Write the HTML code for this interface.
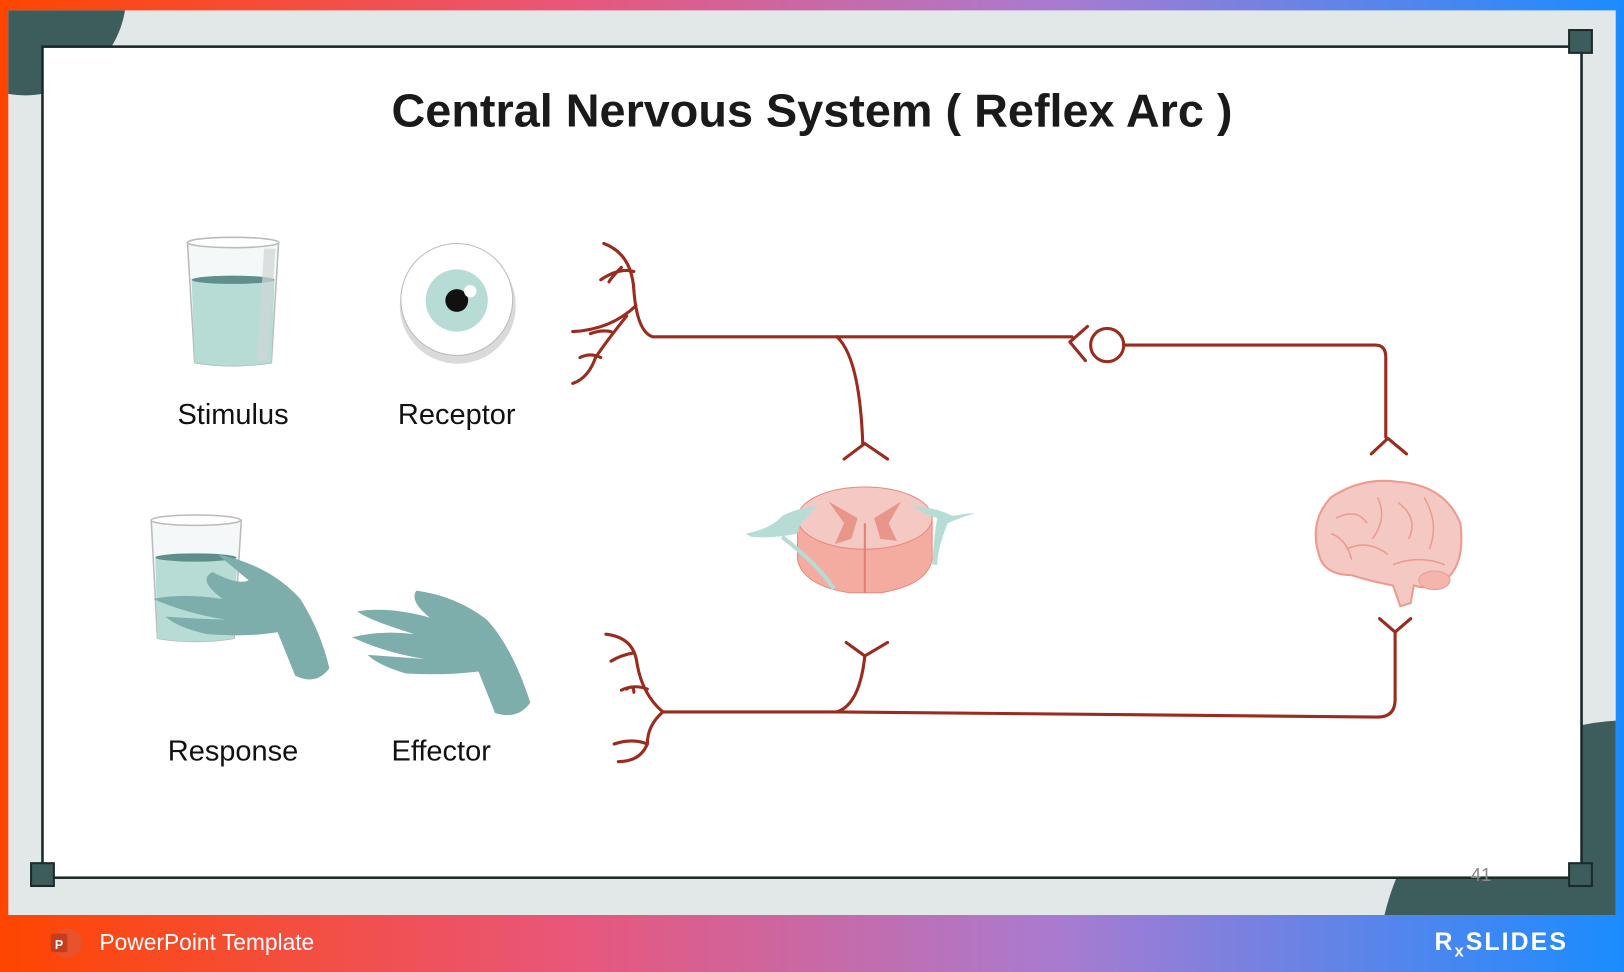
<!DOCTYPE html>
<html><head><meta charset="utf-8"><style>
html,body{margin:0;padding:0;width:1624px;height:972px;overflow:hidden;background:#fff}
svg{display:block;position:absolute;left:0;top:0}
text{font-family:"Liberation Sans",Arial,sans-serif}
</style></head><body>
<svg width="1624" height="972" viewBox="0 0 1568 938" preserveAspectRatio="none" xmlns="http://www.w3.org/2000/svg">
<defs>
<linearGradient id="g" x1="0" x2="1" y1="0" y2="0">
<stop offset="0" stop-color="#ff4500"/><stop offset="0.35" stop-color="#e9567a"/><stop offset="0.65" stop-color="#a97bd0"/><stop offset="1" stop-color="#1a8cff"/>
</linearGradient>
<clipPath id="c"><rect x="8" y="10" width="1552" height="873"/></clipPath>
</defs>
<rect x="0" y="0" width="1568" height="938" fill="url(#g)"/>
<rect x="8" y="10" width="1552" height="873" fill="#e2e7e7"/>
<g clip-path="url(#c)">
<circle cx="24" cy="-6" r="98" fill="#3c5d5b"/>
<circle cx="1575" cy="940" r="245" fill="#3c5d5b"/>
</g>
<rect x="41" y="45" width="1486" height="802" fill="#fff" stroke="#1c2a2a" stroke-width="2.5"/>
<rect x="1515" y="29" width="22" height="22" fill="#3c5d5b" stroke="#1c2a2a" stroke-width="2"/>
<rect x="30" y="833" width="22" height="22" fill="#3c5d5b" stroke="#1c2a2a" stroke-width="2"/>
<rect x="1515" y="833" width="22" height="22" fill="#3c5d5b" stroke="#1c2a2a" stroke-width="2"/>
<text x="1430" y="850" font-size="18" fill="#888" text-anchor="middle">41</text>

<text x="784" y="122" font-size="45" font-weight="bold" fill="#1a1a1a" text-anchor="middle" textLength="812" lengthAdjust="spacingAndGlyphs">Central Nervous System ( Reflex Arc )</text>

<!-- Stimulus glass -->
<path d="M181,234 L269,234 L262,350 Q225,356 188,350 Z" fill="#f4f8f8" stroke="#bbb" stroke-width="1.5"/>
<ellipse cx="225" cy="234" rx="44" ry="5" fill="#fff" stroke="#bbb" stroke-width="1.5"/>
<path d="M185,270 L265,270 L262,350 Q225,356 188,350 Z" fill="#b7dcd5"/>
<ellipse cx="225" cy="270" rx="40" ry="4" fill="#5f8f8a"/>
<path d="M255,240 L266,240 L258,348 L248,348 Z" fill="#cfd5d5" opacity="0.7"/>
<text x="225" y="409" font-size="28" fill="#111" text-anchor="middle">Stimulus</text>

<!-- Receptor eye -->
<circle cx="442" cy="295" r="56" fill="#dadada"/>
<circle cx="441" cy="289" r="54" fill="#fff" stroke="#bbb" stroke-width="1"/>
<circle cx="441" cy="290" r="30" fill="#b7dcd5"/>
<circle cx="441" cy="290" r="11" fill="#111"/>
<circle cx="454" cy="281" r="6" fill="#fff"/>
<text x="441" y="409" font-size="28" fill="#111" text-anchor="middle">Receptor</text>

<!-- Response glass + hand -->
<path d="M146,502 L233,502 L226,616 Q189,622 152,616 Z" fill="#f4f8f8" stroke="#bbb" stroke-width="1.5"/>
<ellipse cx="189" cy="502" rx="43" ry="5" fill="#fff" stroke="#bbb" stroke-width="1.5"/>
<path d="M150,538 L229,538 L226,616 Q189,622 152,616 Z" fill="#b7dcd5"/>
<ellipse cx="189" cy="538" rx="39" ry="4" fill="#5f8f8a"/>
<path d="M210,535 Q260,545 290,578 Q310,610 318,645 Q305,662 285,652 L268,610 Q240,615 200,612 Q170,605 160,595 Q190,597 218,598 Q180,592 148,578 Q175,572 215,578 Q190,560 205,552 Q230,565 240,560 Z" fill="#7eaeab"/>
<!-- Effector hand -->
<path d="M402,570 Q440,575 470,598 Q495,625 512,678 Q500,695 478,688 L462,648 Q430,652 392,650 Q365,642 355,632 Q385,634 410,636 Q372,630 340,615 Q368,608 400,612 Q355,598 345,590 Q375,585 415,596 Q395,580 402,570 Z" fill="#7eaeab"/>
<text x="225" y="734" font-size="28" fill="#111" text-anchor="middle">Response</text>
<text x="426" y="734" font-size="28" fill="#111" text-anchor="middle">Effector</text>

<!-- Nerve paths -->
<g fill="none" stroke="#9a2c1f" stroke-width="3" stroke-linecap="round" stroke-linejoin="round">
<path d="M583,235 Q610,245 612,280 Q615,320 630,325 L808,325 L1035,325"/>
<path d="M612,262 Q598,258 580,270"/>
<path d="M600,258 Q590,268 588,272"/>
<path d="M614,295 Q590,318 553,320"/>
<path d="M605,305 Q585,330 575,345 Q568,365 553,370"/>
<path d="M590,320 Q580,318 570,322"/>
<path d="M580,345 Q570,340 560,345"/>
<path d="M808,325 Q830,345 833,428"/>
<path d="M815,443 L835,428 L857,443"/>
<path d="M1050,315 L1033,330 L1048,348"/>
<circle cx="1069" cy="333" r="16"/>
<path d="M1085,333 L1328,333 Q1338,333 1338,345 L1338,422"/>
<path d="M1324,438 L1340,423 L1358,438"/>
<path d="M640,687 L808,687 L1330,692 Q1347,692 1347,675 L1347,610"/>
<path d="M808,687 Q830,680 835,633"/>
<path d="M817,620 L835,633 L857,620"/>
<path d="M1332,597 L1347,610 L1362,597"/>
<path d="M640,687 Q620,670 615,640 Q612,615 585,612"/>
<path d="M612,630 Q600,632 590,638"/>
<path d="M625,665 Q612,660 600,666"/>
<path d="M605,665 Q612,660 612,668"/>
<path d="M640,687 Q625,700 625,718 Q618,735 597,735"/>
<path d="M625,718 Q610,712 593,718"/>
</g>

<!-- Spinal cord -->
<g>
<path d="M770,500 Q835,470 900,500 L900,540 Q895,565 850,572 L820,572 Q775,565 770,540 Z" fill="#f4aba0" stroke="#ea8a7e" stroke-width="1"/>
<ellipse cx="835" cy="500" rx="65" ry="30" fill="#f4c9c3" stroke="#ea8a7e" stroke-width="1"/>
<path d="M800,484 L828,500 L822,520 L806,525 L815,505 Z M870,484 L844,500 L850,520 L866,522 L858,505 Z" fill="#e8958a"/>
<line x1="835" y1="505" x2="835" y2="572" stroke="#e37f72" stroke-width="2"/>
<path d="M720,515 Q745,510 755,498 Q770,490 790,488 Q770,505 770,515 Q745,520 725,518 Z" fill="#b7dcd5"/>
<path d="M880,488 Q905,490 920,498 Q935,495 942,495 Q925,500 915,505 Q905,530 905,545 L900,545 Q902,515 905,500 Q890,495 880,488 Z" fill="#b7dcd5"/>
<path d="M755,518 Q790,545 805,568" stroke="#b7dcd5" stroke-width="4" fill="none"/>
</g>

<!-- Brain -->
<g>
<path d="M1275,540 Q1262,505 1285,480 Q1315,460 1350,465 Q1395,468 1410,505 Q1415,545 1395,560 Q1380,570 1365,565 L1362,582 L1352,585 L1345,565 Q1320,560 1305,555 Q1282,555 1275,540 Z" fill="#f4c9c3" stroke="#ee9a8e" stroke-width="2"/>
<path d="M1290,500 Q1310,490 1320,505 M1330,480 Q1340,500 1325,520 M1350,485 Q1370,500 1360,520 M1375,480 Q1390,505 1380,530 M1300,530 Q1320,520 1340,535 M1345,545 Q1370,535 1395,545 M1285,515 Q1300,520 1305,540" stroke="#ee9a8e" stroke-width="1.5" fill="none"/>
<ellipse cx="1385" cy="560" rx="15" ry="9" fill="#f4b6ac" stroke="#ee9a8e"/>
</g>

<!-- Footer -->
<circle cx="65" cy="910" r="14" fill="#e8532e"/>
<rect x="49" y="901" width="16" height="18" rx="2" fill="#c43e1c"/>
<text x="57" y="916" font-size="12" font-weight="bold" fill="#fff" text-anchor="middle">P</text>
<text x="96" y="917" font-size="22" fill="#fff">PowerPoint Template</text>
<text x="1385" y="917" font-size="24" font-weight="bold" fill="#fff" letter-spacing="2">R<tspan font-size="16" dy="6">x</tspan><tspan dy="-6">SLIDES</tspan></text>
</svg>
</body></html>
